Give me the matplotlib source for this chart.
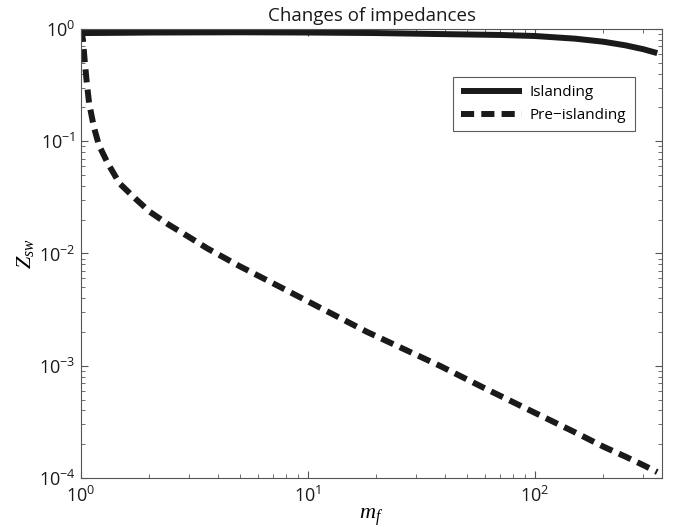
import matplotlib
matplotlib.use("Agg")
import matplotlib.pyplot as plt

# ---- data ----
mf_island = [1.0, 1.5, 2.0, 5.0, 10.0, 20.0, 40.0, 70.0, 100.0, 150.0, 200.0, 250.0, 300.0, 345.0]
z_island = [0.92, 0.925, 0.93, 0.935, 0.93, 0.92, 0.90, 0.885, 0.866, 0.82, 0.77, 0.715, 0.66, 0.61]

mf_pre = [1.0, 1.02, 1.04, 1.06, 1.085, 1.14, 1.2, 1.31, 1.48, 1.73, 2.01, 2.42, 2.96,
          3.6, 5.0, 7.3, 11.6, 18.2, 38.0, 60.0, 100.0, 150.0, 200.0, 250.0, 300.0, 345.0]
z_pre = [1.0, 0.8, 0.5, 0.336, 0.22, 0.133, 0.092, 0.064, 0.042, 0.031, 0.0235, 0.0182, 0.0142,
         0.0111, 0.0077, 0.0052, 0.0032, 0.0020, 0.0010, 0.00063, 0.00038, 0.000255, 0.00019,
         0.000155, 0.00013, 0.000113]

labels = ["Islanding", "Pre\u2212islanding"]
title = "Changes of impedances"

plt.rcParams['font.family'] = ['Open Sans', 'DejaVu Sans']
plt.rcParams['mathtext.fontset'] = 'custom'
plt.rcParams['mathtext.rm'] = 'Open Sans'
plt.rcParams['mathtext.it'] = 'Liberation Serif:italic'

fig = plt.figure(figsize=(6.77, 5.27), dpi=100)
ax = fig.add_axes([81/677, 1-478/527, (662-81)/677, (478-29)/527])

col = '#1a1a1a'
ax.loglog(mf_island, z_island, color=col, lw=4.3, label=labels[0], solid_capstyle='butt')
ax.loglog(mf_pre, z_pre, color=col, lw=4.3, linestyle=(0, (2.2, 1.2)), label=labels[1],
          dash_capstyle='butt')

ax.set_xlim(1, 362)
ax.set_ylim(1e-4, 1)

for s in ax.spines.values():
    s.set_color('#555555')
    s.set_linewidth(0.8)
ax.tick_params(which='both', direction='in', top=True, right=True, colors='#555555',
               labelcolor='#1a1a1a', labelsize=13)
ax.tick_params(which='major', length=5, width=0.8)
ax.tick_params(which='minor', length=3, width=0.6)
ax.tick_params(axis='x', which='both', pad=6)
ax.tick_params(axis='y', which='both', pad=4)

ax.set_title(title, fontsize=13.5, color='#1a1a1a', pad=6)
ax.set_xlabel(r'$\mathit{m_f}$', fontsize=16, labelpad=0)
ax.set_ylabel(r'$\mathit{Z_{sw}}$', fontsize=16, labelpad=2)

leg = ax.legend(loc='upper right', bbox_to_anchor=(0.9535, 0.893), fontsize=11,
                frameon=True, fancybox=False, edgecolor='#333333', handlelength=4.0,
                handletextpad=0.5, borderpad=0.55, labelspacing=0.5, borderaxespad=0)
leg.get_frame().set_linewidth(0.8)

fig.savefig('out.png', dpi=100)
